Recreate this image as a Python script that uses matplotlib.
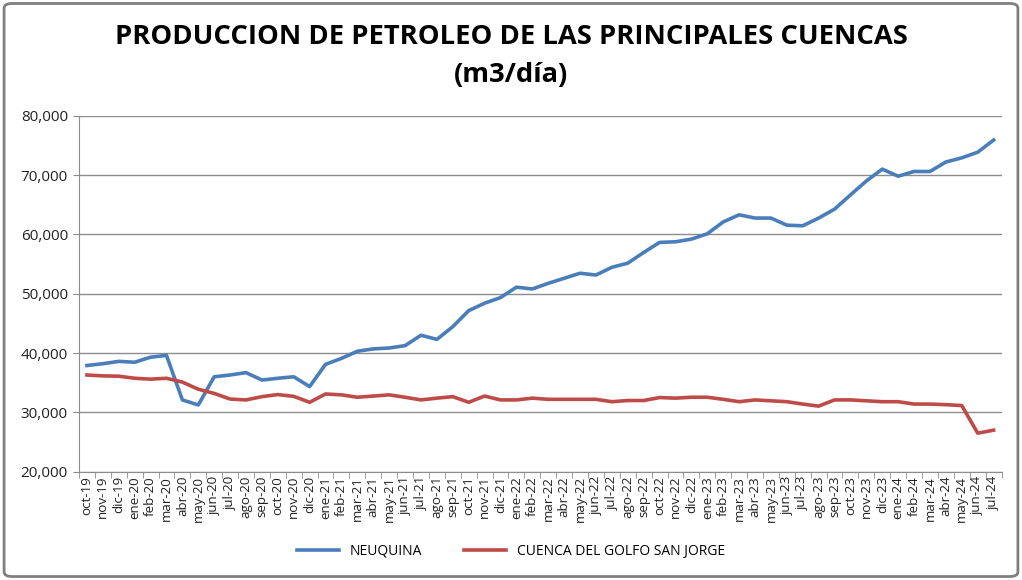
import numpy as np
import matplotlib
matplotlib.use("Agg")
import matplotlib.pyplot as plt
from matplotlib.patches import FancyBboxPatch
from matplotlib.ticker import FuncFormatter, FixedLocator

# === DATOS ===
meses = ["oct-19", "nov-19", "dic-19",
         "ene-20", "feb-20", "mar-20", "abr-20", "may-20", "jun-20", "jul-20", "ago-20", "sep-20", "oct-20", "nov-20", "dic-20",
         "ene-21", "feb-21", "mar-21", "abr-21", "may-21", "jun-21", "jul-21", "ago-21", "sep-21", "oct-21", "nov-21", "dic-21",
         "ene-22", "feb-22", "mar-22", "abr-22", "may-22", "jun-22", "jul-22", "ago-22", "sep-22", "oct-22", "nov-22", "dic-22",
         "ene-23", "feb-23", "mar-23", "abr-23", "may-23", "jun-23", "jul-23", "ago-23", "sep-23", "oct-23", "nov-23", "dic-23",
         "ene-24", "feb-24", "mar-24", "abr-24", "may-24", "jun-24", "jul-24"]

neuquina = [37900, 38200, 38600, 38450, 39300, 39600, 32100, 31250, 36000, 36300, 36700, 35450, 35750, 36000, 34350,
            38100, 39100, 40300, 40700, 40850, 41250, 43000, 42300, 44450, 47150, 48400, 49350,
            51100, 50800, 51750, 52600, 53450, 53150, 54450, 55150, 56950, 58650, 58750, 59200,
            60100, 62100, 63300, 62750, 62750, 61550, 61450, 62750, 64250, 66650, 69000, 71000,
            69800, 70600, 70600, 72200, 72900, 73850, 75900]

golfo_sj = [36300, 36150, 36100, 35750, 35600, 35750, 35100, 33900, 33200, 32250, 32100, 32650, 33000, 32700, 31700,
            33100, 32950, 32550, 32750, 32950, 32550, 32100, 32400, 32650, 31700, 32750, 32100,
            32100, 32400, 32200, 32200, 32200, 32200, 31800, 32000, 32000, 32500, 32400, 32550,
            32550, 32200, 31800, 32100, 31950, 31800, 31400, 31050, 32100, 32100, 31950, 31800,
            31800, 31400, 31400, 31300, 31150, 26500, 27000]

titulo = "PRODUCCION DE PETROLEO DE LAS PRINCIPALES CUENCAS\n(m3/día)"
series = [("NEUQUINA", neuquina, "#4A7EBB"),
          ("CUENCA DEL GOLFO SAN JORGE", golfo_sj, "#BE4B48")]

plt.rcParams['font.family'] = ['Open Sans', 'DejaVu Sans']

fig = plt.figure(figsize=(10.22, 5.8), dpi=100)
ax = fig.add_axes([0.0773, 0.1867, 0.9027, 0.6138])

x = np.arange(len(meses))
for nombre, vals, color in series:
    ax.plot(x, vals, color=color, lw=2.6, label=nombre, solid_joinstyle='round')

ax.set_xlim(-0.5, len(meses) - 0.5)
ax.set_ylim(20000, 80000)
ax.set_yticks(np.arange(20000, 80001, 10000))
ax.yaxis.set_major_formatter(FuncFormatter(lambda v, p: f"{int(v):,}"))
ax.grid(True, axis='y', color='#8c8c8c', lw=1)
ax.set_axisbelow(True)

ax.set_xticks(x)
ax.set_xticklabels(meses, rotation=90, fontsize=9.6, color='#222222')
ax.xaxis.set_minor_locator(FixedLocator(np.arange(-0.5, len(meses), 1)))
ax.tick_params(axis='x', which='major', length=0, pad=3)
ax.tick_params(axis='x', which='minor', length=4, color='#8c8c8c')
ax.tick_params(axis='y', length=4, color='#8c8c8c', labelsize=11, labelcolor='#222222', pad=4)

for s in ['top', 'right']:
    ax.spines[s].set_visible(False)
for s in ['left', 'bottom']:
    ax.spines[s].set_color('#8c8c8c')

fig.text(0.5, 0.903, titulo, ha='center', va='center', fontsize=19.7, fontweight='bold',
         linespacing=1.6, color='black')

fig.legend(loc='center', bbox_to_anchor=(0.5, 0.05), ncol=2, frameon=False,
           fontsize=10, handlelength=3, columnspacing=3)

# marco del grafico
borde = FancyBboxPatch((0.004, 0.006), 0.992, 0.988, boxstyle="round,pad=0,rounding_size=0.008",
                       transform=fig.transFigure, fill=False, ec='#7f7f7f', lw=2)
fig.patches.append(borde)

plt.savefig("out.png", dpi=100)
plt.close()
